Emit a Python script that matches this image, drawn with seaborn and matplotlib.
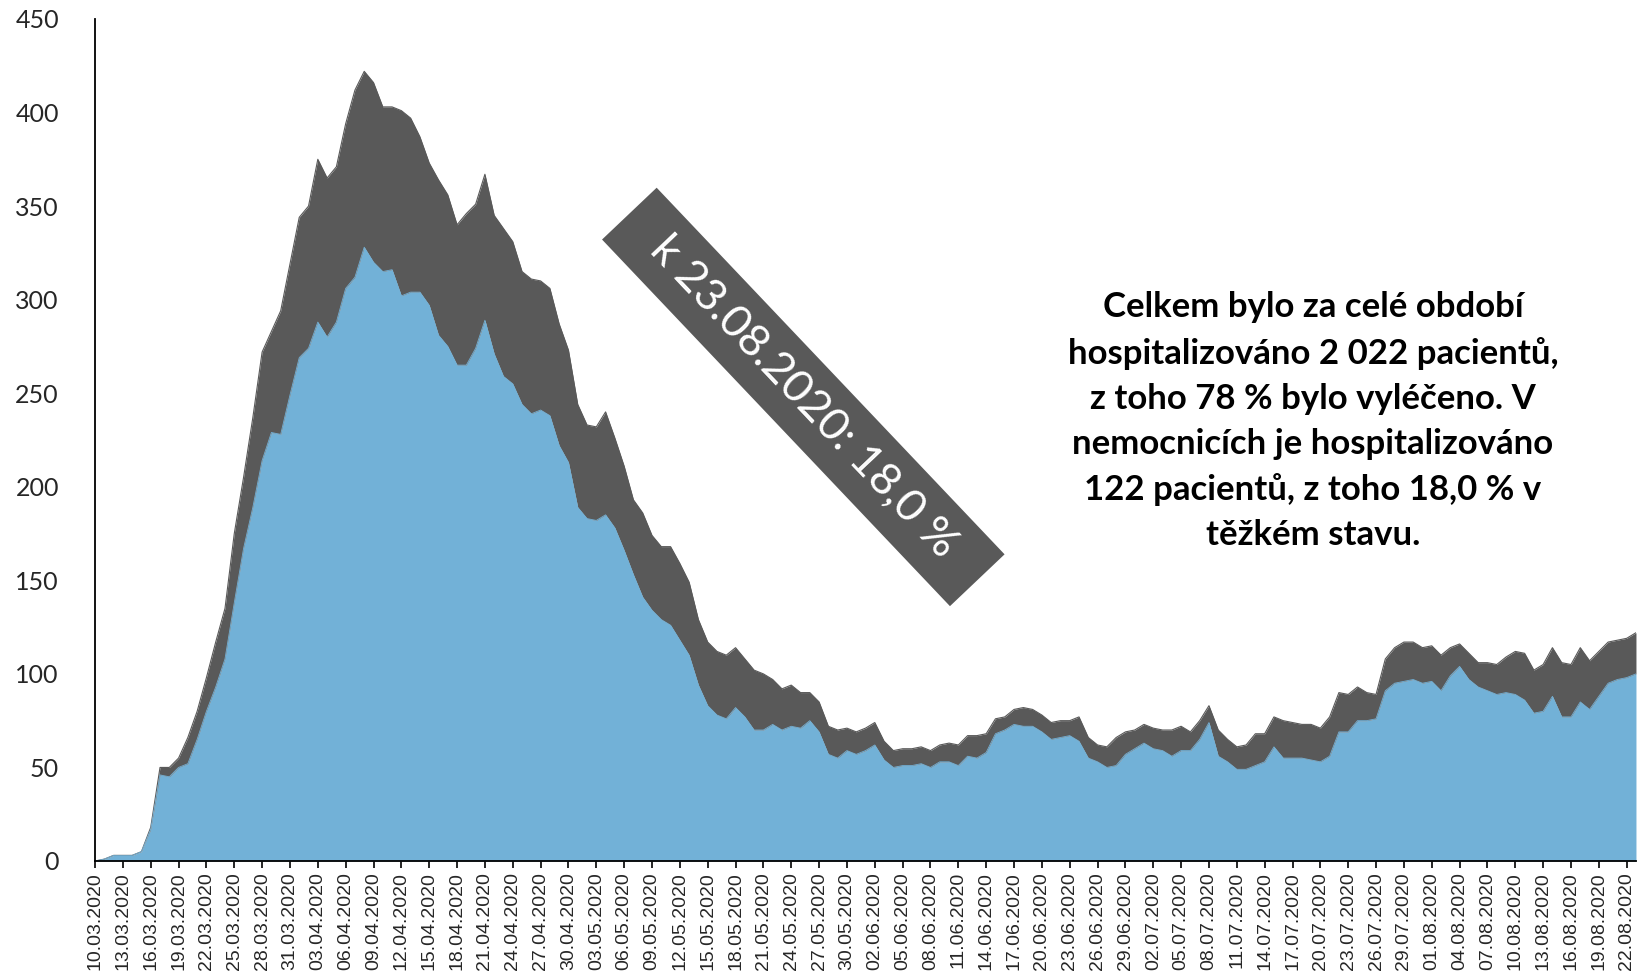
import numpy as np
import pandas as pd
import matplotlib
matplotlib.use("Agg")
import matplotlib.pyplot as plt
import seaborn as sns

# daily hospitalised patients, 10.03.2020 - 23.08.2020
dates = pd.date_range("2020-03-10", "2020-08-23", freq="D")

total = [
    0, 1, 3, 3, 3, 5, 18, 50, 50, 55,
    66, 80, 98, 117, 135, 175, 205, 237, 272, 283,
    294, 319, 344, 350, 375, 365, 371, 394, 412, 422,
    416, 403, 403, 401, 397, 387, 373, 364, 356, 340,
    346, 351, 367, 345, 338, 331, 315, 311, 310, 306,
    287, 273, 244, 233, 232, 240, 226, 211, 193, 186,
    174, 168, 168, 159, 149, 129, 117, 112, 110, 114,
    108, 102, 100, 97, 92, 94, 90, 90, 85, 72,
    70, 71, 69, 71, 74, 64, 59, 60, 60, 61,
    59, 62, 63, 62, 67, 67, 68, 76, 77, 81,
    82, 81, 78, 74, 75, 75, 77, 66, 62, 61,
    66, 69, 70, 73, 71, 70, 70, 72, 69, 75,
    83, 70, 65, 61, 62, 68, 68, 77, 75, 74,
    73, 73, 71, 77, 90, 89, 93, 90, 89, 108,
    114, 117, 117, 114, 115, 110, 114, 116, 111, 106,
    106, 105, 109, 112, 111, 102, 105, 114, 106, 105,
    114, 107, 112, 117, 118, 119, 122,
]

# patients not in serious condition (blue layer)
not_severe = [
    0, 1, 3, 3, 3, 5, 17, 46, 45, 50,
    52, 65, 80, 93, 108, 138, 167, 189, 214, 229,
    228, 249, 269, 274, 288, 280, 288, 306, 312, 328,
    320, 315, 316, 302, 304, 304, 297, 281, 275, 265,
    265, 274, 289, 271, 259, 255, 244, 239, 241, 238,
    222, 213, 189, 183, 182, 185, 178, 166, 153, 141,
    134, 129, 126, 118, 110, 94, 83, 78, 76, 82,
    77, 70, 70, 73, 70, 72, 71, 75, 69, 57,
    55, 59, 57, 59, 62, 54, 50, 51, 51, 52,
    50, 53, 53, 51, 56, 55, 58, 68, 70, 73,
    72, 72, 69, 65, 66, 67, 64, 55, 53, 50,
    51, 57, 60, 63, 60, 59, 56, 59, 59, 65,
    74, 56, 53, 49, 49, 51, 53, 61, 55, 55,
    55, 54, 53, 56, 69, 69, 75, 75, 76, 91,
    95, 96, 97, 95, 96, 91, 99, 104, 97, 93,
    91, 89, 90, 89, 86, 79, 80, 88, 77, 77,
    85, 81, 88, 95, 97, 98, 100,
]

y_ticks = [0, 50, 100, 150, 200, 250, 300, 350, 400, 450]
banner_text = "  k 23.08.2020: 18,0 %  "
note_text = ("Celkem bylo za celé období\n"
             "hospitalizováno 2 022 pacientů,\n"
             "z toho 78 % bylo vyléčeno. V\n"
             "nemocnicích je hospitalizováno\n"
             "122 pacientů, z toho 18,0 % v\n"
             "těžkém stavu.")

BLUE = "#72B1D7"
GREY = "#595959"

df = pd.DataFrame({
    "day": np.arange(len(dates)),
    "total": total,
    "not_severe": not_severe,
})

sns.set_theme(style="ticks")
plt.rcParams["font.family"] = ["Lato", "DejaVu Sans"]

fig = plt.figure(figsize=(16.47, 9.72), dpi=100)
ax = fig.add_axes([0.0577, 0.1142, 0.9356, 0.8663])

ax.fill_between(df["day"], 0, df["not_severe"], color=BLUE, linewidth=0)
ax.fill_between(df["day"], df["not_severe"], df["total"], color=GREY, linewidth=0)
sns.lineplot(data=df, x="day", y="total", ax=ax, color=GREY, linewidth=0.8)
sns.lineplot(data=df, x="day", y="not_severe", ax=ax, color=BLUE, linewidth=0.6)

ax.set_xlim(0, len(dates) - 1)
ax.set_ylim(0, 450)
ax.set_xlabel("")
ax.set_ylabel("")

tick_pos = np.arange(0, len(dates), 3)
ax.set_xticks(tick_pos)
ax.set_xticklabels([dates[i].strftime("%d.%m.%Y") for i in tick_pos],
                   rotation=90, fontsize=14, family=["Liberation Sans", "DejaVu Sans"])
ax.tick_params(axis="x", length=5, width=1.2, color="black", pad=3)
ax.set_yticks(y_ticks)
ax.tick_params(axis="y", length=0, pad=26, labelsize=18)

sns.despine(ax=ax)
for side in ("left", "bottom"):
    ax.spines[side].set_color("black")
    ax.spines[side].set_linewidth(1.3)

ax.text(76.3, 248, banner_text, rotation=-46.5, rotation_mode="anchor",
        ha="center", va="center", color="white", fontsize=32.5,
        bbox=dict(boxstyle="square,pad=0.38", fc=GREY, ec="none"))

ax.text(131.2, 235, note_text, ha="center", va="center", fontsize=25,
        fontweight="bold", color="black", linespacing=1.5)

fig.savefig("out.png", dpi=100)
